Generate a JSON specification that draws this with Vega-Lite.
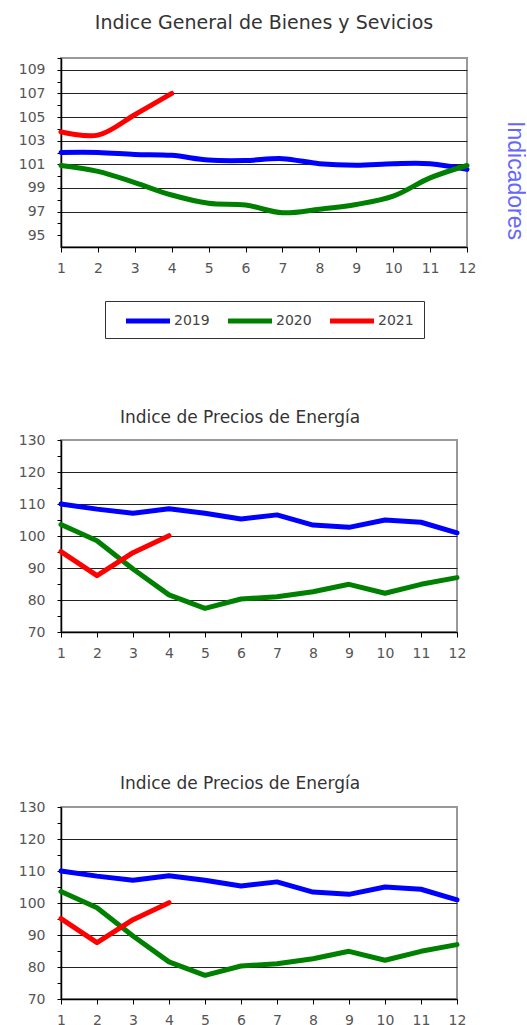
{
  "$schema": "https://vega.github.io/schema/vega-lite/v6.json",
  "background": "white",
  "padding": {"left": 17, "top": 13, "right": 0, "bottom": 0},
  "datasets": {
    "general": [
      {"mes": 1, "valor": 102.0, "anio": "2019"}, {"mes": 2, "valor": 102.0, "anio": "2019"}, {"mes": 3, "valor": 101.84, "anio": "2019"}, {"mes": 4, "valor": 101.76, "anio": "2019"}, {"mes": 5, "valor": 101.36, "anio": "2019"}, {"mes": 6, "valor": 101.32, "anio": "2019"}, {"mes": 7, "valor": 101.48, "anio": "2019"}, {"mes": 8, "valor": 101.05, "anio": "2019"}, {"mes": 9, "valor": 100.93, "anio": "2019"}, {"mes": 10, "valor": 101.05, "anio": "2019"}, {"mes": 11, "valor": 101.05, "anio": "2019"}, {"mes": 12, "valor": 100.57, "anio": "2019"},
      {"mes": 1, "valor": 100.9, "anio": "2020"}, {"mes": 2, "valor": 100.4, "anio": "2020"}, {"mes": 3, "valor": 99.45, "anio": "2020"}, {"mes": 4, "valor": 98.4, "anio": "2020"}, {"mes": 5, "valor": 97.7, "anio": "2020"}, {"mes": 6, "valor": 97.55, "anio": "2020"}, {"mes": 7, "valor": 96.9, "anio": "2020"}, {"mes": 8, "valor": 97.2, "anio": "2020"}, {"mes": 9, "valor": 97.6, "anio": "2020"}, {"mes": 10, "valor": 98.3, "anio": "2020"}, {"mes": 11, "valor": 99.85, "anio": "2020"}, {"mes": 12, "valor": 100.9, "anio": "2020"},
      {"mes": 1, "valor": 103.75, "anio": "2021"}, {"mes": 2, "valor": 103.47, "anio": "2021"}, {"mes": 3, "valor": 105.2, "anio": "2021"}, {"mes": 4, "valor": 107.0, "anio": "2021"}
    ],
    "energia": [
      {"mes": 1, "valor": 110.0, "anio": "2019"}, {"mes": 2, "valor": 108.4, "anio": "2019"}, {"mes": 3, "valor": 107.1, "anio": "2019"}, {"mes": 4, "valor": 108.5, "anio": "2019"}, {"mes": 5, "valor": 107.1, "anio": "2019"}, {"mes": 6, "valor": 105.3, "anio": "2019"}, {"mes": 7, "valor": 106.6, "anio": "2019"}, {"mes": 8, "valor": 103.4, "anio": "2019"}, {"mes": 9, "valor": 102.7, "anio": "2019"}, {"mes": 10, "valor": 105.0, "anio": "2019"}, {"mes": 11, "valor": 104.3, "anio": "2019"}, {"mes": 12, "valor": 101.0, "anio": "2019"},
      {"mes": 1, "valor": 103.6, "anio": "2020"}, {"mes": 2, "valor": 98.5, "anio": "2020"}, {"mes": 3, "valor": 89.7, "anio": "2020"}, {"mes": 4, "valor": 81.6, "anio": "2020"}, {"mes": 5, "valor": 77.4, "anio": "2020"}, {"mes": 6, "valor": 80.3, "anio": "2020"}, {"mes": 7, "valor": 81.0, "anio": "2020"}, {"mes": 8, "valor": 82.6, "anio": "2020"}, {"mes": 9, "valor": 84.9, "anio": "2020"}, {"mes": 10, "valor": 82.1, "anio": "2020"}, {"mes": 11, "valor": 84.9, "anio": "2020"}, {"mes": 12, "valor": 87.0, "anio": "2020"},
      {"mes": 1, "valor": 95.1, "anio": "2021"}, {"mes": 2, "valor": 87.6, "anio": "2021"}, {"mes": 3, "valor": 94.8, "anio": "2021"}, {"mes": 4, "valor": 100.1, "anio": "2021"}
    ]
  },
  "config": {
    "font": "DejaVu Sans",
    "view": {"stroke": "#999999", "strokeWidth": 2},
    "axis": {"labelFont": "DejaVu Sans", "labelFontSize": 14, "labelColor": "#555555", "domainColor": "#000000", "domainWidth": 1.5, "tickColor": "#000000", "tickWidth": 1, "gridColor": "#222222", "gridWidth": 1, "labelFlush": false, "labelOverlap": false, "titleFontWeight": "normal"},
    "title": {"font": "DejaVu Sans", "fontWeight": "normal", "color": "#333333"},
    "line": {"strokeWidth": 5, "strokeCap": "round", "strokeJoin": "round"}
  },
  "resolve": {"scale": {"color": "independent"}, "legend": {"color": "independent"}},
  "spacing": 68,
  "vconcat": [
    {
      "title": {"text": "Indice General de Bienes y Sevicios", "fontSize": 19, "offset": 18},
      "width": 406,
      "height": 189,
      "data": {"name": "general"},
      "layer": [
        {
          "mark": {"type": "line", "interpolate": "catmull-rom"},
          "encoding": {
            "x": {"field": "mes", "type": "quantitative", "scale": {"domain": [1, 12]}, "axis": {"values": [1,2,3,4,5,6,7,8,9,10,11,12], "title": null, "grid": false, "tickSize": 5, "labelPadding": 9}},
            "y": {"field": "valor", "type": "quantitative", "scale": {"domain": [95, 110], "zero": false},
              "axis": {"values": [95,96,97,98,99,100,101,102,103,104,105,106,107,108,109,110], "title": null, "tickSize": 4, "labelPadding": 12, "grid": true,
                "gridOpacity": {"condition": {"test": "datum.value % 2 == 1 && datum.value > 95 && datum.value < 110", "value": 1}, "value": 0},
                "labelExpr": "datum.value % 2 == 1 && datum.value < 110 ? datum.label : ''"}},
            "color": {"field": "anio", "type": "nominal", "scale": {"domain": ["2019", "2020", "2021"], "range": ["#0000ff", "#008000", "#ff0000"]},
              "legend": {"title": null, "orient": "none", "legendX": 44, "legendY": 243, "direction": "horizontal", "symbolType": "M-3,0H3", "symbolStrokeWidth": 4, "symbolSize": 215, "symbolOffset": 23, "labelFontSize": 14, "labelColor": "#444444", "labelFont": "DejaVu Sans", "strokeColor": "#333333", "padding": 10, "columnPadding": 7, "labelOffset": 16}}
          }
        },
        {
          "mark": {"type": "line", "strokeOpacity": 0},
          "encoding": {
            "y": {"field": "valor", "type": "quantitative", "axis": {"orient": "right", "title": "Indicadores", "titleFont": "Liberation Sans", "titleFontSize": 23, "titleColor": "#6666ff", "titleFontWeight": "normal", "labels": false, "ticks": false, "domain": false, "grid": false, "titlePadding": 35, "titleY": 122}}
          }
        }
      ],
      "resolve": {"axis": {"y": "independent"}}
    },
    {
      "spacing": 113,
      "vconcat": [
        {
          "title": {"text": "Indice de Precios de Energía", "fontSize": 17, "offset": 6, "dx": -19},
          "width": 396,
          "height": 192,
          "data": {"name": "energia"},
          "mark": {"type": "line"},
          "encoding": {
            "x": {"field": "mes", "type": "quantitative", "scale": {"domain": [1, 12]}, "axis": {"values": [1,2,3,4,5,6,7,8,9,10,11,12], "title": null, "grid": false, "tickSize": 5, "labelPadding": 9}},
            "y": {"field": "valor", "type": "quantitative", "scale": {"domain": [70, 130], "zero": false},
              "axis": {"values": [70,75,80,85,90,95,100,105,110,115,120,125,130], "title": null, "tickSize": 4, "labelPadding": 12, "grid": true,
                "gridOpacity": {"condition": {"test": "datum.value % 10 == 0 && datum.value > 70 && datum.value < 130", "value": 1}, "value": 0},
                "labelExpr": "datum.value % 10 == 0 ? datum.label : ''"}},
            "color": {"field": "anio", "type": "nominal", "scale": {"domain": ["2019", "2020", "2021"], "range": ["#0000ff", "#008000", "#ff0000"]}, "legend": null}
          }
        },
        {
          "title": {"text": "Indice de Precios de Energía", "fontSize": 17, "offset": 7, "dx": -19},
          "width": 396,
          "height": 192,
          "data": {"name": "energia"},
          "mark": {"type": "line"},
          "encoding": {
            "x": {"field": "mes", "type": "quantitative", "scale": {"domain": [1, 12]}, "axis": {"values": [1,2,3,4,5,6,7,8,9,10,11,12], "title": null, "grid": false, "tickSize": 5, "labelPadding": 9}},
            "y": {"field": "valor", "type": "quantitative", "scale": {"domain": [70, 130], "zero": false},
              "axis": {"values": [70,75,80,85,90,95,100,105,110,115,120,125,130], "title": null, "tickSize": 4, "labelPadding": 12, "grid": true,
                "gridOpacity": {"condition": {"test": "datum.value % 10 == 0 && datum.value > 70 && datum.value < 130", "value": 1}, "value": 0},
                "labelExpr": "datum.value % 10 == 0 ? datum.label : ''"}},
            "color": {"field": "anio", "type": "nominal", "scale": {"domain": ["2019", "2020", "2021"], "range": ["#0000ff", "#008000", "#ff0000"]}, "legend": null}
          }
        }
      ]
    }
  ]
}
